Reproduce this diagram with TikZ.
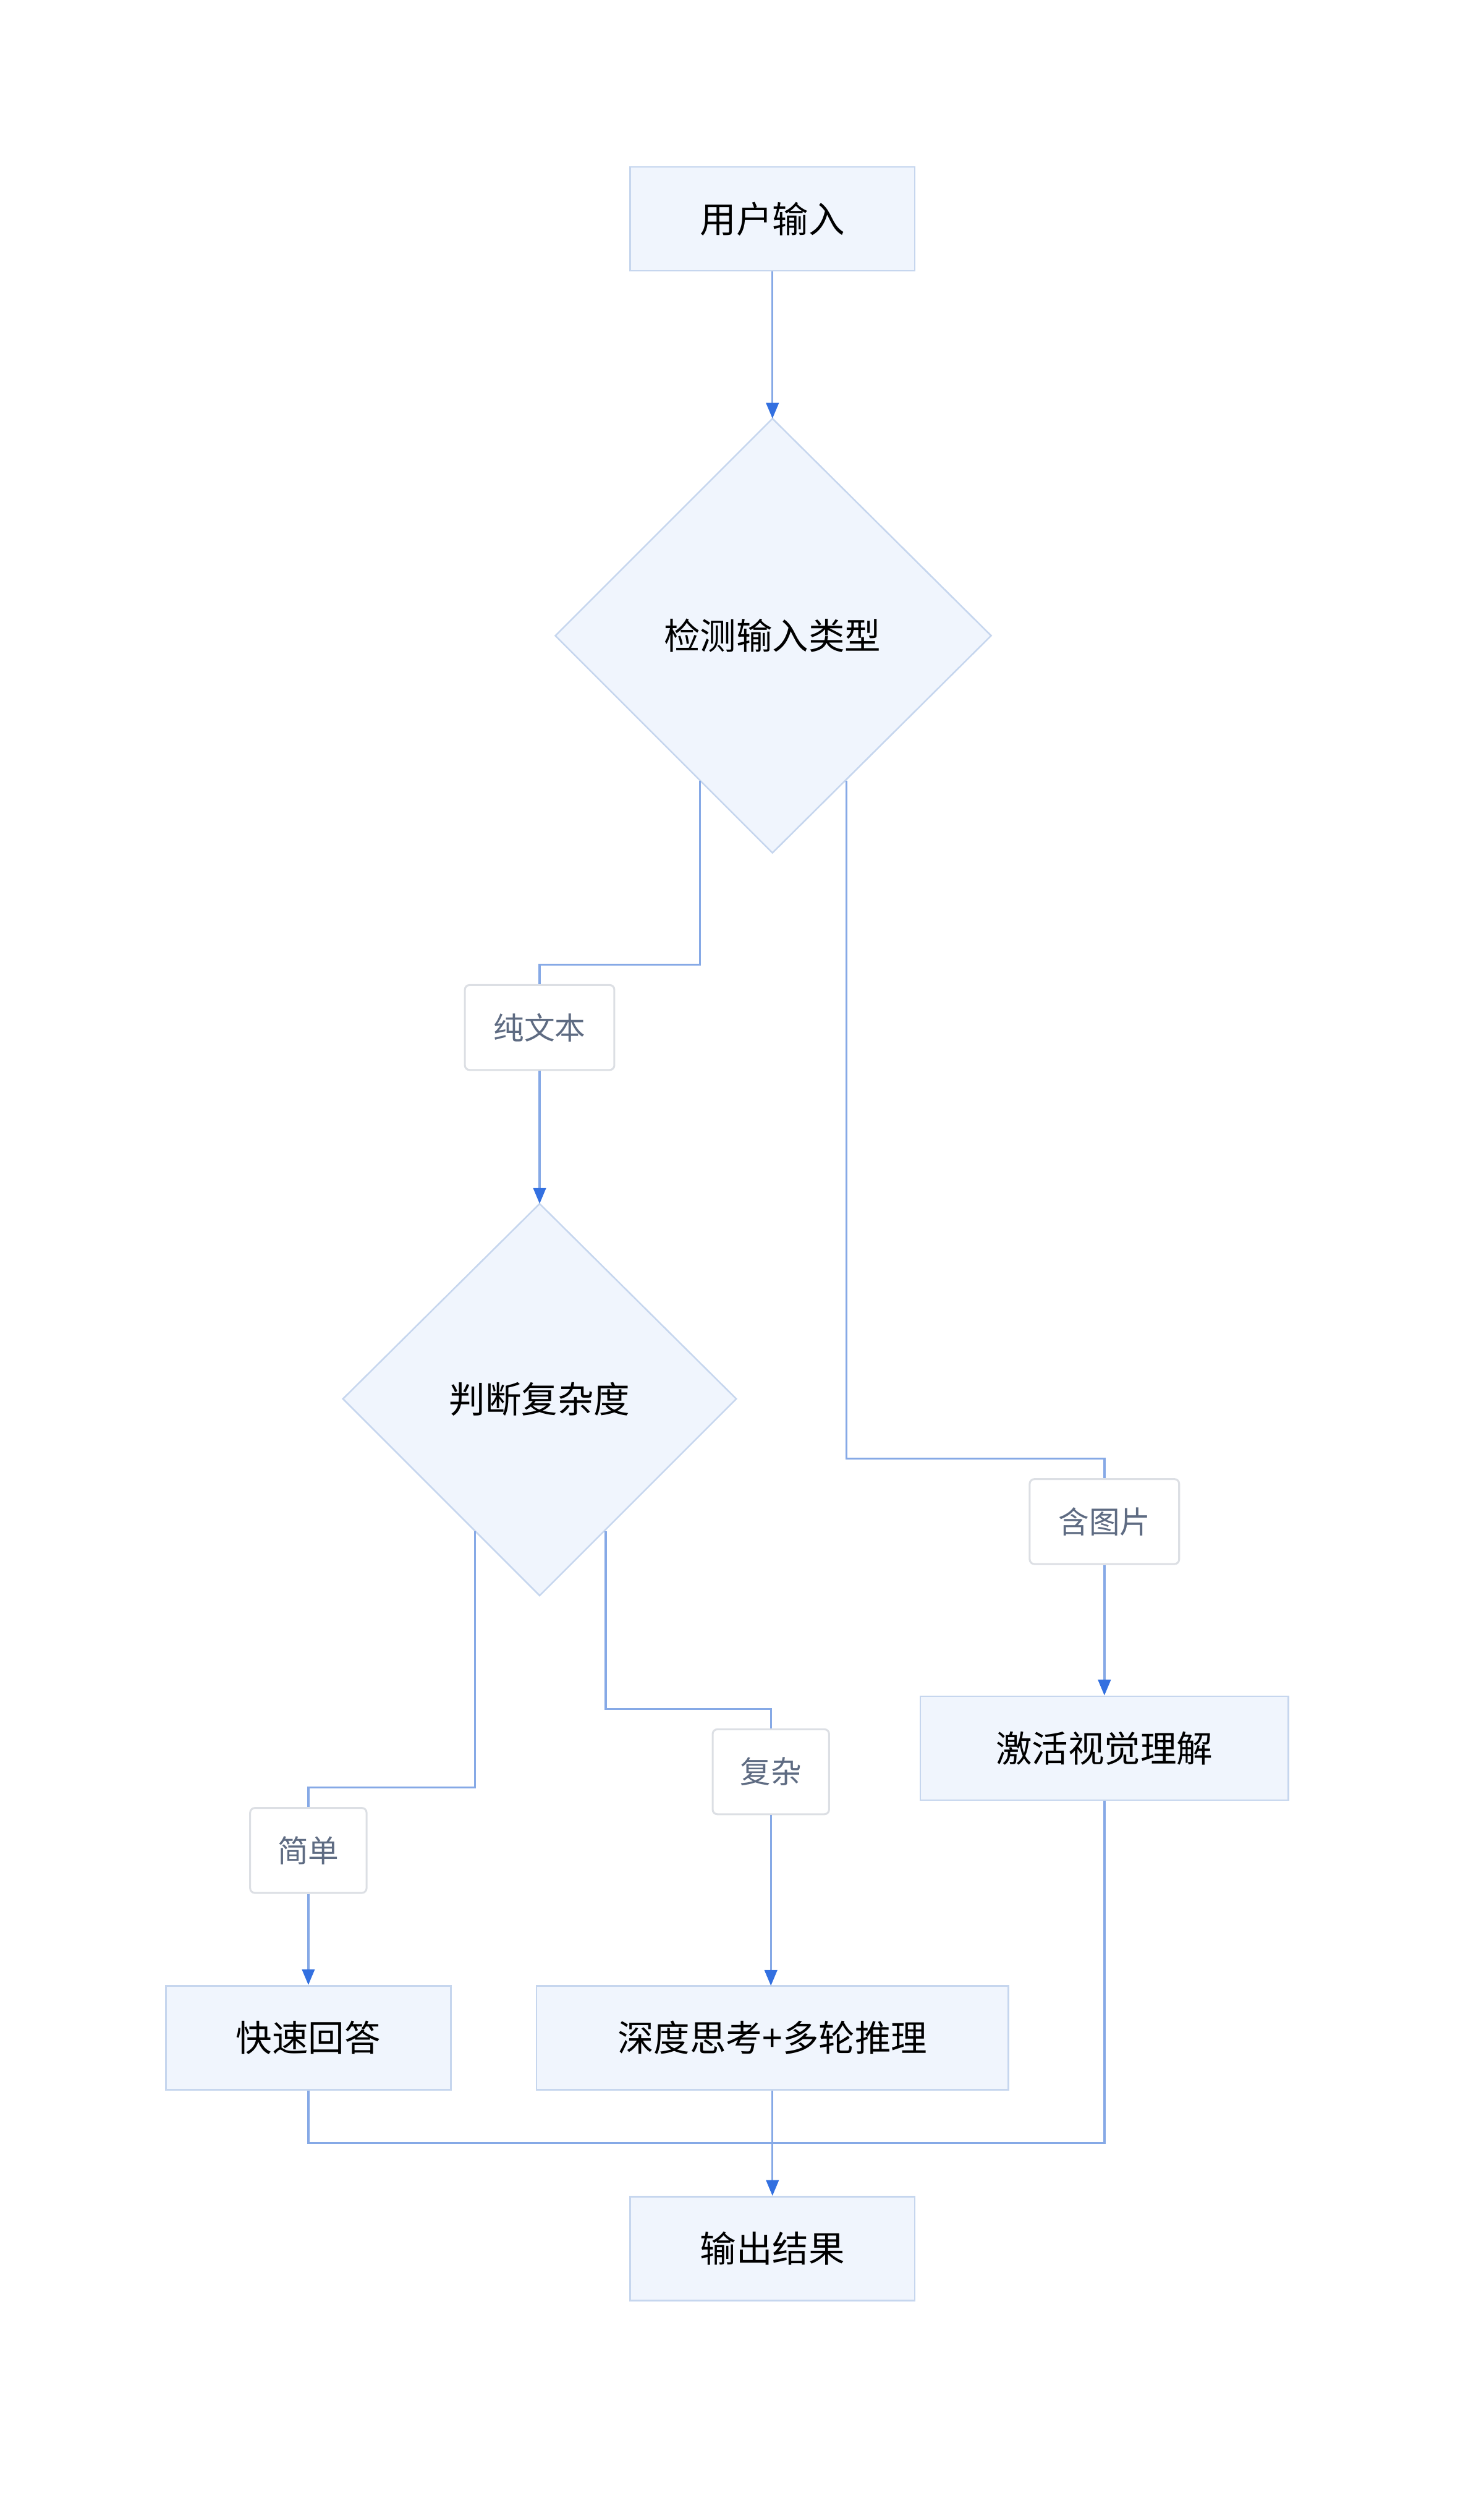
\documentclass[tikz,border=0pt]{standalone}
\usepackage{fontspec}
\setmainfont{Noto Sans CJK SC}
\usetikzlibrary{shapes.geometric,arrows.meta}
\definecolor{nfill}{HTML}{F0F5FD}
\definecolor{nbord}{HTML}{C6D6EE}
\definecolor{eline}{HTML}{86A9E6}
\definecolor{ahead}{HTML}{3370E0}
\definecolor{lbord}{HTML}{DCDFE4}
\definecolor{ltext}{HTML}{5E6B82}
\begin{document}
\begin{tikzpicture}[x=1pt,y=-1pt,
 box/.style={draw=nbord,fill=nfill,line width=1pt,font=\fontsize{23}{27}\selectfont,inner sep=0},
 dia/.style={draw=nbord,fill=nfill,line width=1pt},
 lab/.style={draw=lbord,fill=white,line width=1.2pt,rounded corners=3pt,font=\fontsize{19.5}{22}\selectfont,text=ltext,inner sep=0},
 e/.style={draw=eline,line width=1.3pt},
 a/.style={e,-{Triangle[length=10pt,width=8pt,fill=ahead,color=ahead]}}]
\useasboundingbox (0,0) rectangle (943,1599);
\node[box,minimum width=181pt,minimum height=66pt] (in) at (491,139) {用户输入};
\draw[dia] (491,266) coordinate(d1t) -- (630,404) -- (491,542) -- (353,404) -- cycle;
\node[font=\fontsize{23}{27}\selectfont] (d1) at (491,404) {检测输入类型};
\draw[dia] (343,765) coordinate(d2t) -- (468,889) -- (343,1014) -- (218,889) -- cycle;
\node[font=\fontsize{23}{27}\selectfont] (d2) at (343,889) {判断复杂度};
\node[lab,minimum width=95pt,minimum height=54pt] (l1) at (343,653) {纯文本};
\node[lab,minimum width=95pt,minimum height=54pt] (l2) at (702,967) {含图片};
\node[lab,minimum width=74pt,minimum height=54pt] (l3) at (196,1176) {简单};
\node[lab,minimum width=74pt,minimum height=54pt] (l4) at (490,1126) {复杂};
\node[box,minimum width=234pt,minimum height=66pt] (vis) at (702,1111) {激活视觉理解};
\node[box,minimum width=181pt,minimum height=66pt] (fast) at (196,1295) {快速回答};
\node[box,minimum width=300pt,minimum height=66pt] (deep) at (491,1295) {深度思考+多轮推理};
\node[box,minimum width=181pt,minimum height=66pt] (out) at (491,1429) {输出结果};
\coordinate (d1l) at (445,496); \coordinate (d1r) at (538,496);
\coordinate (d2l) at (302,973); \coordinate (d2r) at (385,973);
\draw[a] (in.south) -- (d1t);
\draw[e] (d1l) -- (445,613) -- (343,613) -- (l1.north);
\draw[a] (l1.south) -- (d2t);
\draw[e] (d1r) -- (538,927) -- (702,927) -- (l2.north);
\draw[a] (l2.south) -- (vis.north);
\draw[e] (d2l) -- (302,1136) -- (196,1136) -- (l3.north);
\draw[a] (l3.south) -- (fast.north);
\draw[e] (d2r) -- (385,1086) -- (490,1086) -- (l4.north);
\draw[a] (l4.south) -- (490,1262);
\draw[e] (fast.south) -- (196,1362) -- (491,1362);
\draw[e] (vis.south) -- (702,1362) -- (491,1362);
\draw[a] (deep.south) -- (out.north);
\end{tikzpicture}
\end{document}
